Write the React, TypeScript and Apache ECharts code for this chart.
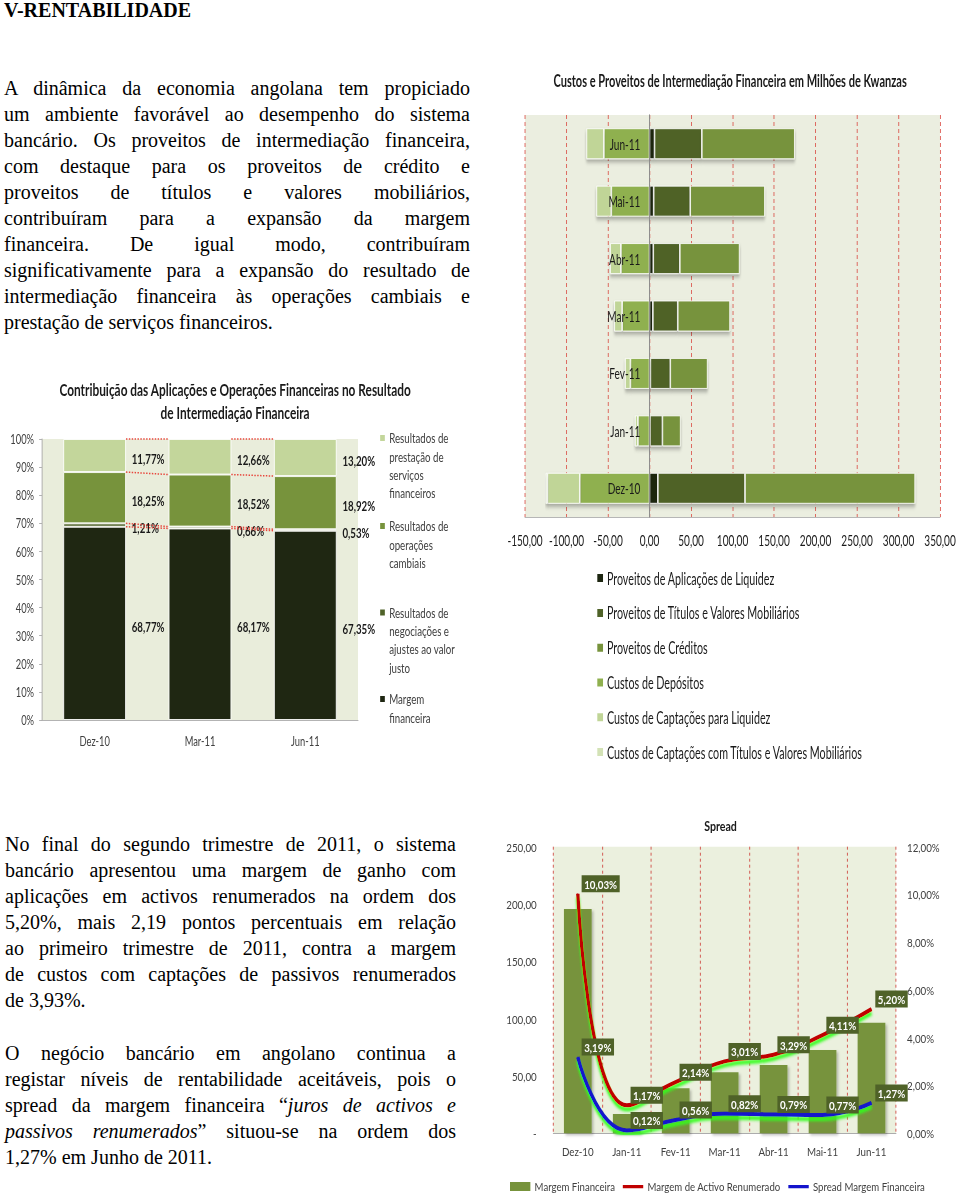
import React, { useEffect, useRef } from 'react';
import * as echarts from 'echarts';

const FONT = 'Lato, "Noto Sans", sans-serif';
const fmt = (v: number) => v.toFixed(2).replace('.', ',');

// ---------- Chart A: Custos e Proveitos ----------
const monthsA = ['Dez-10', 'Jan-11', 'Fev-11', 'Mar-11', 'Abr-11', 'Mai-11', 'Jun-11'];
const provLiquidez = [10, 0.5, 1, 4, 4.5, 5, 6];
const provTitulos = [105, 15, 24, 30, 32, 44, 57];
const provCreditos = [205, 22, 45, 63, 72, 90, 112];
const custDepositos = [-84, -14, -23, -33, -34.5, -46, -55];
const custCaptLiquidez = [-39, -3.5, -6.5, -9.5, -13, -18, -21];
const custCaptTitulos = [-2, -0.5, -0.5, -0.5, -0.5, -0.5, -0.5];
const seriesNamesA = [
  'Proveitos de Aplicações de Liquidez',
  'Proveitos de Títulos e Valores Mobiliários',
  'Proveitos de Créditos',
  'Custos de Depósitos',
  'Custos de Captações para Liquidez',
  'Custos de Captações com Títulos e Valores Mobiliários',
];
const seriesDataA = [provLiquidez, provTitulos, provCreditos, custDepositos, custCaptLiquidez, custCaptTitulos];
const colorsA = ['#1d2611', '#4f6228', '#77933c', '#8fb04f', '#c0d597', '#d3e2b6'];

// ---------- Chart B: Contribuição ----------
const quartersB = ['Dez-10', 'Mar-11', 'Jun-11'];
const margemFin = [68.77, 68.17, 67.35];
const negociacoes = [1.21, 0.66, 0.53];
const cambiais = [18.25, 18.52, 18.92];
const servicos = [11.77, 12.66, 13.2];
const seriesNamesB = [
  'Margem financeira',
  'Resultados de negociações e ajustes ao valor justo',
  'Resultados de operações cambiais',
  'Resultados de prestação de serviços financeiros',
];
const legendLinesB = [
  ['Margem', 'financeira'],
  ['Resultados de', 'negociações e', 'ajustes ao valor', 'justo'],
  ['Resultados de', 'operações', 'cambiais'],
  ['Resultados de', 'prestação de', 'serviços', 'financeiros'],
];
const seriesDataB = [margemFin, negociacoes, cambiais, servicos];
const colorsB = ['#1f2712', '#4f6228', '#77933c', '#c3d69b'];

// ---------- Chart C: Spread ----------
const monthsC = ['Dez-10', 'Jan-11', 'Fev-11', 'Mar-11', 'Abr-11', 'Mai-11', 'Jun-11'];
const margemFinanceira = [195.6, 16.8, 39.2, 53.2, 59.6, 72.6, 96.5];
const margemActivo = [10.03, 1.17, 2.14, 3.01, 3.29, 4.11, 5.2];
const spreadMargem = [3.19, 0.12, 0.56, 0.82, 0.79, 0.77, 1.27];

// ---------- Text ----------
const para1 = [
  'A dinâmica da economia angolana tem propiciado',
  'um ambiente favorável ao desempenho do sistema',
  'bancário. Os proveitos de intermediação financeira,',
  'com destaque para os proveitos de crédito e',
  'proveitos de títulos e valores mobiliários,',
  'contribuíram para a expansão da margem',
  'financeira. De igual modo, contribuíram',
  'significativamente para a expansão do resultado de',
  'intermediação financeira às operações cambiais e',
  'prestação de serviços financeiros.',
];
const para2 = [
  'No final do segundo trimestre de 2011, o sistema',
  'bancário apresentou uma margem de ganho com',
  'aplicações em activos renumerados na ordem dos',
  '5,20%, mais 2,19 pontos percentuais em relação',
  'ao primeiro trimestre de 2011, contra a margem',
  'de custos com captações de passivos renumerados',
  'de 3,93%.',
];
const para3: any[] = [
  [{ t: 'O negócio bancário em angolano continua a' }],
  [{ t: 'registar níveis de rentabilidade aceitáveis, pois o' }],
  [{ t: 'spread da margem financeira “' }, { t: 'juros de activos e', i: true }],
  [{ t: 'passivos renumerados', i: true }, { t: '” situou-se na ordem dos' }],
  [{ t: '1,27% em Junho de 2011.' }],
];

// ---------- Options ----------
const SXA = 0.65;
const optionA: any = {
  animation: false,
  textStyle: { fontFamily: FONT },
  title: {
    text: 'Custos e Proveitos de Intermediação Financeira em Milhões de Kwanzas',
    left: 'center',
    top: 12,
    textStyle: { fontSize: 17, fontWeight: 'bold', color: '#1a1a1a', fontFamily: FONT },
  },
  grid: {
    left: 38.5, right: 31, top: 60, bottom: 258, show: true, backgroundColor: '#ebeee0', borderWidth: 0,
    outerBoundsMode: 'none',
  },
  xAxis: {
    type: 'value', min: -150, max: 350, interval: 50,
    axisLine: { show: true, onZero: false, lineStyle: { color: '#a6a6a6' } },
    axisTick: { show: false },
    axisLabel: { formatter: (v: number) => fmt(v), fontSize: 15.5, color: '#1a1a1a', margin: 15, fontFamily: FONT },
    splitLine: { show: true, lineStyle: { color: '#d9463e', type: [4, 3], width: 1.2 } },
  },
  yAxis: {
    type: 'category', data: monthsA, z: 10,
    axisLine: { show: true, onZero: true, lineStyle: { color: '#8c8c8c', width: 1.5 } },
    axisTick: { show: false },
    axisLabel: { show: false },
    splitLine: { show: false },
  },
  legend: {
    orient: 'vertical', left: 147.7, top: 514.6, padding: 0, itemWidth: 10.8, itemHeight: 10, itemGap: 17.8, icon: 'rect',
    textStyle: { fontSize: 16.5, color: '#1a1a1a', lineHeight: 16, fontFamily: FONT },
    data: seriesNamesA,
  },
  series: [
    {
      name: 'categorias', type: 'bar', stack: 'total', data: monthsA.map(() => 0), barWidth: 31, z: 10,
      itemStyle: { color: 'rgba(0,0,0,0)' },
      label: {
        show: true, position: 'left', distance: 14, formatter: (p: any) => p.name,
        fontSize: 15.5, color: '#1a1a1a', fontFamily: FONT,
      },
    },
    ...seriesNamesA.map((name, k) => ({
      name, type: 'bar', stack: 'total', data: seriesDataA[k], barWidth: 31,
      itemStyle: {
        color: colorsA[k], borderColor: '#ffffff', borderWidth: 1,
        shadowColor: 'rgba(0,0,0,0.3)', shadowBlur: 4, shadowOffsetX: 0, shadowOffsetY: 3,
      },
    })),
  ],
};

const SXB = 0.72;
const BWB = 87;
const cumB: number[][] = [];
{
  let acc = quartersB.map(() => 0);
  seriesDataB.forEach((arr) => {
    acc = acc.map((a, i) => a + arr[i]);
    cumB.push(acc.slice());
  });
}
const seriesLineData: number[][] = [];
cumB.forEach((c) => {
  for (let i = 0; i < c.length - 1; i++) seriesLineData.push([i, c[i], c[i + 1]]);
});
const legendTopsB = [319, 232.5, 146, 58];
const optionB: any = {
  animation: false,
  textStyle: { fontFamily: FONT },
  title: {
    text: 'Contribuição das Aplicações e Operações Financeiras no Resultado\nde Intermediação Financeira',
    left: 'center', top: 3,
    textStyle: { fontSize: 16.5, fontWeight: 'bold', color: '#1a1a1a', lineHeight: 23, fontFamily: FONT },
  },
  grid: {
    left: 58.3, right: 155.8, top: 69, bottom: 40, show: true, backgroundColor: '#e9eddb', borderWidth: 0,
    outerBoundsMode: 'none',
  },
  xAxis: {
    type: 'category', data: quartersB,
    axisLine: { show: true, lineStyle: { color: '#a6a6a6' } },
    axisTick: { show: false },
    axisLabel: { fontSize: 13, color: '#404040', margin: 14, fontFamily: FONT },
  },
  yAxis: {
    type: 'value', min: 0, max: 100, interval: 10,
    axisLine: { show: true, lineStyle: { color: '#a6a6a6' } },
    axisTick: { show: true, length: 4, lineStyle: { color: '#a6a6a6' } },
    axisLabel: { formatter: '{value}%', fontSize: 13, color: '#404040', margin: 11, fontFamily: FONT },
    splitLine: { show: false },
  },
  legend: seriesNamesB.map((name, k) => {
    const n = legendLinesB[k].length;
    const H = +(n * 18.3).toFixed(1);
    return {
      orient: 'vertical', left: 526, top: legendTopsB[k], padding: 0, itemWidth: 8.5, itemHeight: H,
      icon: `path://M0,0L8.5,0M0,5H8.5V13H0ZM0,${H}L8.5,${H}`,
      formatter: () => legendLinesB[k].join('\n'),
      textStyle: { fontSize: 13.5, lineHeight: 18.3, color: '#404040', fontFamily: FONT },
      data: [name],
    };
  }),
  series: [
    ...seriesNamesB.map((name, k) => ({
      name, type: 'bar', stack: 'p', data: seriesDataB[k], barWidth: BWB,
      itemStyle: { color: colorsB[k], borderColor: '#ffffff', borderWidth: 1 },
      label: {
        show: true, position: 'right', distance: 8, offset: [0, 3],
        formatter: (p: any) => fmt(p.value) + '%',
        fontSize: 13.5, fontWeight: 'bold', color: '#1a1a1a', fontFamily: FONT,
      },
    })),
    {
      type: 'custom', name: 'seriesLines', z: 3, data: seriesLineData,
      encode: { x: 0, y: [1, 2] },
      renderItem: (params: any, api: any) => {
        const i = api.value(0);
        const a = api.coord([i, api.value(1)]);
        const b = api.coord([i + 1, api.value(2)]);
        return {
          type: 'line',
          shape: { x1: a[0] + BWB / 2, y1: a[1], x2: b[0] - BWB / 2, y2: b[1] },
          style: { stroke: '#e8463c', lineWidth: 1.5, lineDash: [2, 2] },
        };
      },
    },
  ],
};

const SXC = 0.85;
const lineLabel = {
  show: true, position: 'right', distance: 4, offset: [0, -10],
  formatter: (p: any) => fmt(p.value) + '%',
  backgroundColor: '#4f6228', color: '#ffffff', fontWeight: 'bold', fontSize: 11.5,
  padding: [3, 3, 2, 3], fontFamily: FONT,
};
const lineIcon = 'path://M0,0L26,0M0,3H26V6.5H0ZM0,9L26,9';
const glow = { shadowColor: 'rgba(50,255,30,1)', shadowBlur: 3, shadowOffsetY: 4 };
const optionC: any = {
  animation: false,
  textStyle: { fontFamily: FONT },
  title: { text: 'Spread', left: 247, top: 5, textStyle: { fontSize: 12.5, fontWeight: 'bold', color: '#1a1a1a', fontFamily: FONT } },
  grid: {
    left: 74.5, right: 75.4, top: 36.7, bottom: 65.7, show: true, backgroundColor: '#ebf0de', borderWidth: 0,
    outerBoundsMode: 'none',
  },
  xAxis: {
    type: 'category', data: monthsC,
    axisLine: { show: true, lineStyle: { color: '#a6a6a6' } },
    axisTick: { show: false },
    axisLabel: { fontSize: 11.5, color: '#404040', margin: 12, interval: 0, fontFamily: FONT },
    splitLine: { show: true, interval: 0, lineStyle: { color: '#d0504a', type: [3, 3], width: 1 } },
  },
  yAxis: [
    {
      type: 'value', min: 0, max: 250, interval: 50,
      axisLine: { show: false }, axisTick: { show: false }, splitLine: { show: false },
      axisLabel: { formatter: (v: number) => (v === 0 ? '-' : fmt(v)), fontSize: 11.5, color: '#404040', margin: 19.5, fontFamily: FONT },
    },
    {
      type: 'value', min: 0, max: 12, interval: 2, position: 'right',
      axisLine: { show: false }, axisTick: { show: false }, splitLine: { show: false },
      axisLabel: { formatter: (v: number) => fmt(v) + '%', fontSize: 11.5, color: '#404040', margin: 13, fontFamily: FONT },
    },
  ],
  legend: {
    left: 23.5, top: 371, padding: 0, itemWidth: 24, itemHeight: 9, itemGap: 9,
    textStyle: { fontSize: 11.3, color: '#404040', fontFamily: FONT },
    data: [
      { name: 'Margem Financeira', icon: 'rect' },
      { name: 'Margem de Activo Renumerado', icon: lineIcon },
      { name: 'Spread Margem Financeira', icon: lineIcon },
    ],
  },
  series: [
    {
      name: 'Margem Financeira', type: 'bar', data: margemFinanceira, barWidth: 32.6,
      itemStyle: { color: '#77933c', shadowColor: 'rgba(0,0,0,0.25)', shadowBlur: 3, shadowOffsetX: 2, shadowOffsetY: 2 },
    },
    {
      name: 'Margem de Activo Renumerado', type: 'line', yAxisIndex: 1, data: margemActivo, smooth: 0.5,
      symbol: 'circle', symbolSize: 1, itemStyle: { color: '#c00000' },
      lineStyle: { color: '#c00000', width: 4, ...glow },
      label: lineLabel, z: 4,
    },
    {
      name: 'Spread Margem Financeira', type: 'line', yAxisIndex: 1, data: spreadMargem, smooth: 0.5,
      symbol: 'circle', symbolSize: 1, itemStyle: { color: '#1414cc' },
      lineStyle: { color: '#1414cc', width: 4, ...glow },
      label: lineLabel, z: 5,
    },
  ],
};

function EChart({ option, left, top, width, height, sx }: any) {
  const ref = useRef<HTMLDivElement>(null);
  useEffect(() => {
    const chart = echarts.init(ref.current as HTMLDivElement, null, { renderer: 'svg' });
    chart.setOption(option);
    return () => chart.dispose();
  }, [option]);
  return (
    <div
      ref={ref}
      style={{ position: 'absolute', left, top, width, height, transform: `scaleX(${sx})`, transformOrigin: '0 0' }}
    />
  );
}

function Para({ lines, left, top, width }: any) {
  return (
    <div style={{ position: 'absolute', left, top, width }}>
      {lines.map((ln: any, idx: number) => {
        const last = idx === lines.length - 1;
        const content = Array.isArray(ln)
          ? ln.map((s: any, j: number) => (s.i ? <i key={j}>{s.t}</i> : <span key={j}>{s.t}</span>))
          : ln;
        return (
          <div
            key={idx}
            style={{
              height: 26, lineHeight: '26px', fontSize: 20, textAlign: last ? 'left' : 'justify',
              textAlignLast: last ? 'left' : 'justify', whiteSpace: 'normal',
            } as any}
          >
            {content}
          </div>
        );
      })}
    </div>
  );
}

export default function App() {
  return (
    <div
      style={{
        position: 'absolute', left: 0, top: 0, width: 960, height: 1199, background: '#ffffff', overflow: 'hidden',
        fontFamily: '"Liberation Serif", "Times New Roman", serif', color: '#000',
      }}
    >
      <div style={{ position: 'absolute', left: 4, top: -3, fontSize: 20, fontWeight: 'bold', lineHeight: '26px' }}>
        V-RENTABILIDADE
      </div>
      <Para lines={para1} left={4} top={75} width={466} />
      <Para lines={para2} left={5} top={831} width={451} />
      <Para lines={para3} left={5} top={1040} width={451} />
      <EChart option={optionA} left={500} top={55} width={708} height={720} sx={SXA} />
      <EChart option={optionB} left={0} top={370} width={653} height={390} sx={SXB} />
      <EChart option={optionC} left={490} top={810} width={553} height={389} sx={SXC} />
    </div>
  );
}
